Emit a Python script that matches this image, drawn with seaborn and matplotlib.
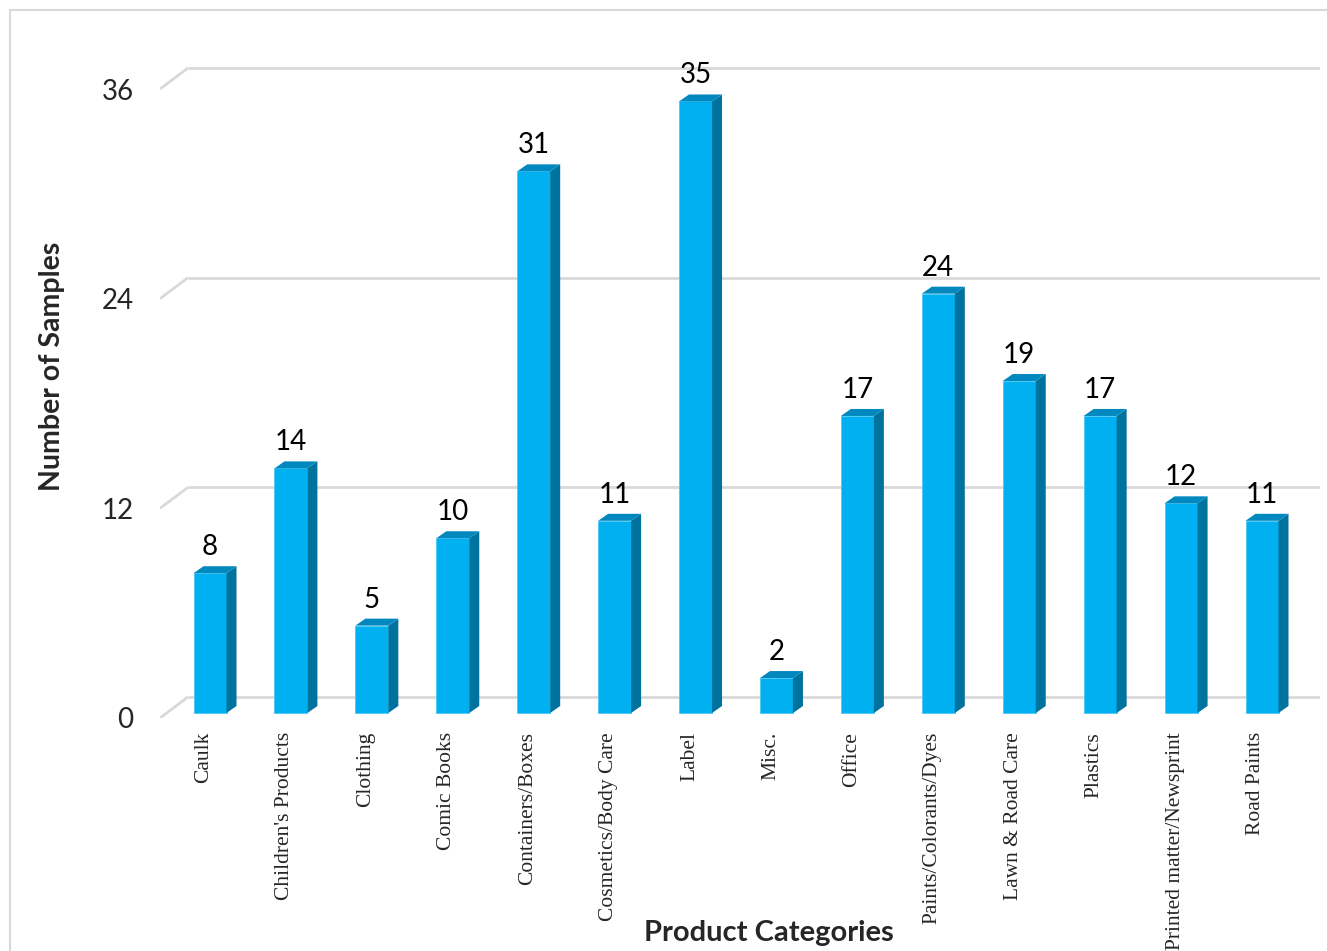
"""Number of samples per product category (3-D style Excel column chart)"""
import matplotlib
matplotlib.use('Agg')
import matplotlib.pyplot as plt
from matplotlib.patches import Polygon, Rectangle
import seaborn as sns
import pandas as pd
import numpy as np

categories = ['Caulk', "Children's Products", 'Clothing', 'Comic Books',
              'Containers/Boxes', 'Cosmetics/Body Care', 'Label', 'Misc.',
              'Office', 'Paints/Colorants/Dyes', 'Lawn & Road Care',
              'Plastics', 'Printed matter/Newsprint', 'Road Paints']
samples = [8, 14, 5, 10, 31, 11, 35, 2, 17, 24, 19, 17, 12, 11]
y_ticks = [0, 12, 24, 36]

df = pd.DataFrame({'category': categories, 'samples': samples})

sns.set_style('white')
plt.rcParams['font.family'] = ['Lato', 'DejaVu Sans']

W, H = 1327, 951
fig = plt.figure(figsize=(W / 100, H / 100), dpi=100)

# axes area in pixels: left edge of floor (x=160) to back wall end (x=1320),
# y=0 at front floor edge (718 px from top)
left, right, bottom, top = 160, 1320, 718, 30
ax = fig.add_axes([left / W, (H - bottom) / H, (right - left) / W, (bottom - top) / H])

px_per_unit = (718 - 89) / 36
ax.set_ylim(0, (bottom - top) / px_per_unit)
x_per_bar = (1262 - 210) / 13
xlim = ((left - 210) / x_per_bar, (right - 210) / x_per_bar)

front = '#00b0f0'
side = '#00729e'
topc = '#0088bf'
bar_w = 33 / x_per_bar

sns.barplot(data=df, x='category', y='samples', color=front, width=bar_w,
            saturation=1, edgecolor='#4cc8f4', linewidth=0.6, ax=ax, zorder=3)
ax.set_xlim(*xlim)


def dx(p):
    return p / x_per_bar


def dy(p):
    return p / px_per_unit


# back wall gridlines and the diagonal floor connectors
back = 21
for t in y_ticks:
    ax.plot([xlim[0], xlim[0] + dx(28)], [t, t + dy(back)],
            color='#d9d9d9', lw=2, zorder=1, solid_capstyle='butt')
    ax.plot([xlim[0] + dx(28), xlim[1]], [t + dy(back)] * 2,
            color='#d9d9d9', lw=2, zorder=1, solid_capstyle='butt')

# push bars back a little and add side/top faces
lift = dy(5)
sx, sy = dx(10), dy(7)
for bar, v in zip(ax.patches, samples):
    bar.set_y(lift)
    x0 = bar.get_x()
    x1 = x0 + bar.get_width()
    y1 = lift + v
    ax.add_patch(Polygon([(x1, lift), (x1, y1), (x1 + sx, y1 + sy), (x1 + sx, lift + sy)],
                         closed=True, facecolor=side, edgecolor='none', zorder=3))
    ax.add_patch(Polygon([(x0, y1), (x1, y1), (x1 + sx, y1 + sy), (x0 + sx, y1 + sy)],
                         closed=True, facecolor=topc, edgecolor='none', zorder=3))
    ax.text(bar.get_x() + bar.get_width() / 2, y1 + sy + dy(6), f'{v}',
            ha='center', va='bottom', fontsize=20, color='black')

ax.set_yticks(y_ticks)
ax.set_yticklabels([str(t) for t in y_ticks], fontsize=20)
ax.tick_params(axis='y', length=0, pad=19)
ax.tick_params(axis='x', length=0, pad=10)
ax.set_xticks(np.arange(len(categories)) - dx(6))
ax.set_xticklabels(categories, rotation=90, fontsize=15.5, family='Liberation Serif',
                   ha='center', va='top')
ax.set_xlim(*xlim)
sns.despine(ax=ax, left=True, bottom=True)
ax.set_xlabel('')
ax.set_ylabel('')

fig.text(769 / W, 1 - 933 / H, 'Product Categories', ha='center', va='center',
         fontsize=21, fontweight='bold')
fig.text(52 / W, 1 - 366 / H, 'Number of Samples', ha='center', va='center',
         rotation=90, fontsize=20.5, fontweight='bold')

# chart border
fig.patches.append(Rectangle((10 / W, -0.01), 1.0, 1 - 10 / H + 0.01,
                             transform=fig.transFigure, fill=False,
                             edgecolor='#d9d9d9', lw=1.5))

fig.savefig('out.png', dpi=100)
